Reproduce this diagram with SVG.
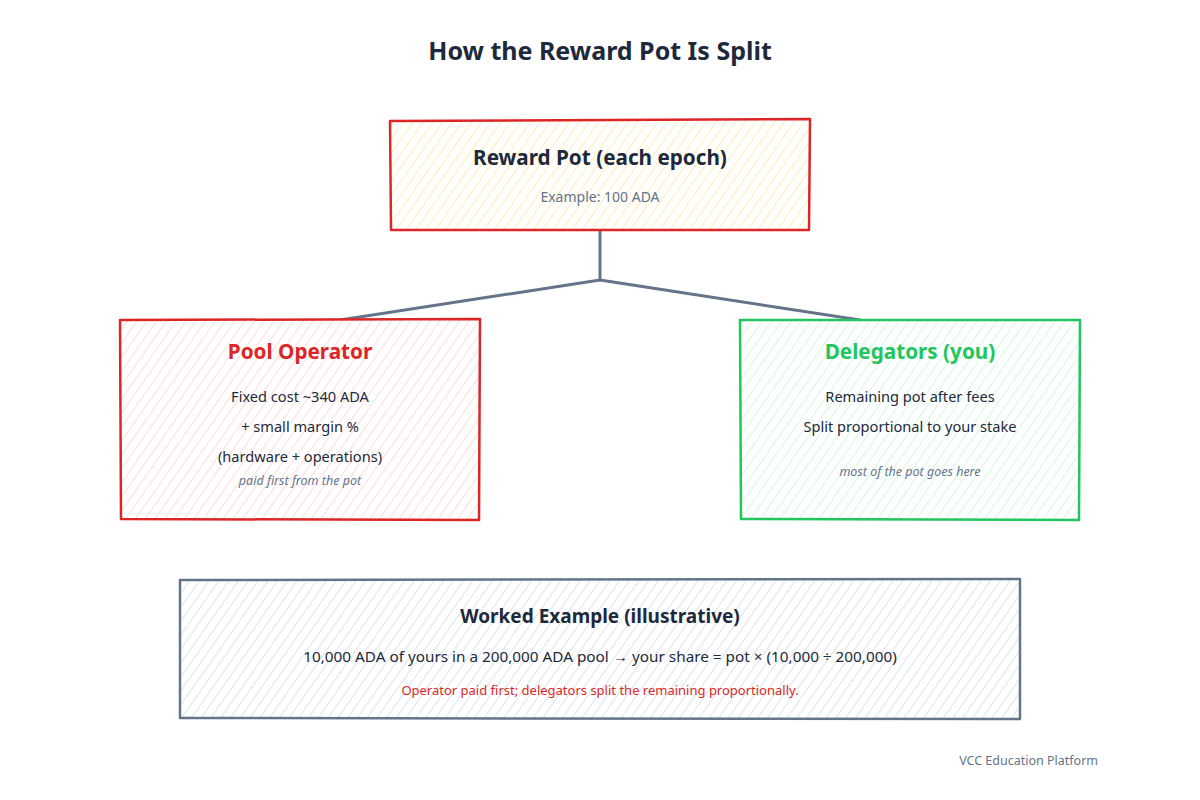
<svg xmlns="http://www.w3.org/2000/svg" width="1200" height="800" viewBox="0 0 1200 800">
<style>
text{font-family:"Noto Sans","Open Sans","Liberation Sans",sans-serif;text-anchor:middle}
.t{font-size:25px;font-weight:bold;fill:#1e293b}
.h{font-size:20.7px;font-weight:bold}
.b{font-size:14.6px;fill:#1e293b}
.s{font-size:14px;fill:#64748b}
.i{font-size:12.5px;font-style:italic;fill:#64748b}
.box{stroke-width:2.5;stroke-linejoin:round}
.conn{fill:none;stroke:#64748b;stroke-width:3;stroke-linecap:round;stroke-linejoin:round}
</style>
<defs>
<pattern id="hy" width="8" height="8" patternUnits="userSpaceOnUse" patternTransform="rotate(35)"><rect width="8" height="8" fill="#fff"/><line x1="0" y1="0" x2="0" y2="8" stroke="#fde68a" stroke-width="1.3"/></pattern>
<pattern id="hr" width="8" height="8" patternUnits="userSpaceOnUse" patternTransform="rotate(35)"><rect width="8" height="8" fill="#fff"/><line x1="0" y1="0" x2="0" y2="8" stroke="#fecaca" stroke-width="1.3"/></pattern>
<pattern id="hg" width="8" height="8" patternUnits="userSpaceOnUse" patternTransform="rotate(35)"><rect width="8" height="8" fill="#fff"/><line x1="0" y1="0" x2="0" y2="8" stroke="#bbf7d0" stroke-width="1.3"/></pattern>
<pattern id="hs" width="8" height="8" patternUnits="userSpaceOnUse" patternTransform="rotate(35)"><rect width="8" height="8" fill="#fff"/><line x1="0" y1="0" x2="0" y2="8" stroke="#cbd5e1" stroke-width="1.3"/></pattern>
</defs>
<rect width="1200" height="800" fill="#fff"/>
<text class="t" x="600" y="60">How the Reward Pot Is Split</text>
<g id="connectors">
<path class="conn" d="M600 231 L600 279 M600 280 L340 320 M600 280 L860 320"/>
</g>
<g id="reward-pot">
<path class="box" fill="url(#hy)" stroke="#dc2626" d="M390 121 L810 119 L809 230 L391 230 Z"/>
<text class="h" x="600" y="165" fill="#1e293b">Reward Pot (each epoch)</text>
<text class="s" x="600" y="202">Example: 100 ADA</text>
</g>
<g id="pool-operator">
<path class="box" fill="url(#hr)" stroke="#dc2626" d="M120 320 L480 319 L479 520 L121 519 Z"/>
<text class="h" x="300" y="359" fill="#dc2626">Pool Operator</text>
<text class="b" x="300" y="402">Fixed cost ~340 ADA</text>
<text class="b" x="300" y="432">+ small margin %</text>
<text class="b" x="300" y="462">(hardware + operations)</text>
<text class="i" x="300" y="485">paid first from the pot</text>
</g>
<g id="delegators">
<path class="box" fill="url(#hg)" stroke="#22c55e" d="M740 320 L1080 320 L1079 520 L741 519 Z"/>
<text class="h" x="910" y="359" fill="#22c55e">Delegators (you)</text>
<text class="b" x="910" y="402">Remaining pot after fees</text>
<text class="b" x="910" y="432">Split proportional to your stake</text>
<text class="i" x="910" y="476">most of the pot goes here</text>
</g>
<g id="worked-example">
<path class="box" fill="url(#hs)" stroke="#64748b" d="M180 580 L1020 579 L1020 719 L180 718 Z"/>
<text x="600" y="623" style="font-size:19px;font-weight:bold;fill:#1e293b">Worked Example (illustrative)</text>
<text x="600" y="662" style="font-size:15.3px;fill:#1e293b">10,000 ADA of yours in a 200,000 ADA pool → your share = pot × (10,000 ÷ 200,000)</text>
<text x="600" y="695" style="font-size:13px;fill:#dc2626">Operator paid first; delegators split the remaining proportionally.</text>
</g>
<text x="1098" y="765" style="font-size:12.5px;fill:#64748b;text-anchor:end">VCC Education Platform</text>
</svg>
